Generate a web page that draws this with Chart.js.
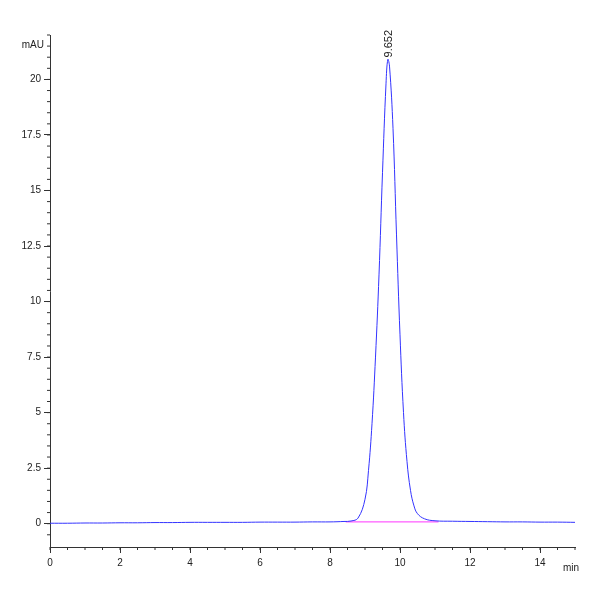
<!DOCTYPE html><html><head><script src="https://cdn.jsdelivr.net/npm/chart.js"></script>
<style>body{margin:0;background:#fff}#w{width:600px;height:600px}</style></head><body><div id="w"><canvas id="c"></canvas></div>
<script>
const times=[0,0.5,1,1.5,2,2.5,3,3.5,4,4.5,5,5.5,6,6.5,7,7.5,8,8.4,8.6,8.8,9.0,9.1,9.2,9.3,9.4,9.5,9.6,9.652,9.7,9.8,9.9,10.0,10.1,10.2,10.3,10.4,10.5,10.7,11.0,11.5,12,12.5,13,13.5,14,14.5,15];
const signal=[0.02,0.02,0.03,0.03,0.04,0.04,0.05,0.05,0.06,0.06,0.06,0.06,0.07,0.07,0.07,0.08,0.08,0.1,0.12,0.25,1.1,2.4,4.5,7.5,11.2,15.8,19.8,20.9,20.6,17.8,13.0,8.5,5.0,2.8,1.5,0.8,0.45,0.22,0.13,0.11,0.1,0.09,0.08,0.08,0.07,0.07,0.06];
const baseX=[8.45,11.1], baseY=[0.08,0.08];
const peakT=9.652, peakLabel="9.652";
const xTicks=[0,2,4,6,8,10,12,14];
const yTicks=[0,2.5,5,7.5,10,12.5,15,17.5,20];
const deco={id:'deco',afterDraw(ch){const c=ch.ctx,x=ch.scales.x,y=ch.scales.y;c.save();c.strokeStyle='#333';c.lineWidth=1;
for(let t=0;t<=15;t+=0.5){const p=x.getPixelForValue(t);c.beginPath();c.moveTo(p,y.bottom);c.lineTo(p,y.bottom+3);c.stroke();}
for(let v=-0.5;v<=22;v+=0.5){const p=y.getPixelForValue(v);c.beginPath();c.moveTo(x.left,p);c.lineTo(x.left-3,p);c.stroke();}
c.fillStyle='#222';c.font='10px "Liberation Sans"';c.textAlign='right';c.fillText('mAU',x.left-6,y.getPixelForValue(21.6)+4);
c.textAlign='left';c.fillText('min',x.right-12,y.bottom+24);
c.save();c.translate(x.getPixelForValue(peakT)+4,y.getPixelForValue(20.9)-2);c.rotate(-Math.PI/2);c.font='11px "Liberation Sans"';c.fillText(peakLabel,0,0);c.restore();
c.restore();}};
new Chart(document.getElementById('c'),{type:'line',data:{datasets:[
{data:times.map((t,i)=>({x:t,y:signal[i]})),borderColor:'#3333ff',borderWidth:1,pointRadius:0,tension:0.4},
{data:baseX.map((t,i)=>({x:t,y:baseY[i]})),borderColor:'#ff33ff',borderWidth:1,pointRadius:0}]},
options:{responsive:true,maintainAspectRatio:false,animation:false,layout:{padding:{top:35,right:25,left:0,bottom:0}},
plugins:{legend:{display:false},tooltip:{enabled:false}},
scales:{x:{type:'linear',min:0,max:15,afterFit(s){s.height=53},afterBuildTicks(s){s.ticks=xTicks.map(v=>({value:v}))},
grid:{drawOnChartArea:false,tickLength:6,color:'#333'},border:{color:'#333'},ticks:{color:'#222',font:{size:10,family:'Liberation Sans'},padding:4}},
y:{min:-1.05,max:22,afterFit(s){s.width=50},afterBuildTicks(s){s.ticks=yTicks.map(v=>({value:v}))},
grid:{drawOnChartArea:false,tickLength:6,color:'#333'},border:{color:'#333'},ticks:{color:'#222',font:{size:10,family:'Liberation Sans'},padding:3}}}},
plugins:[deco]});
</script></body></html>
